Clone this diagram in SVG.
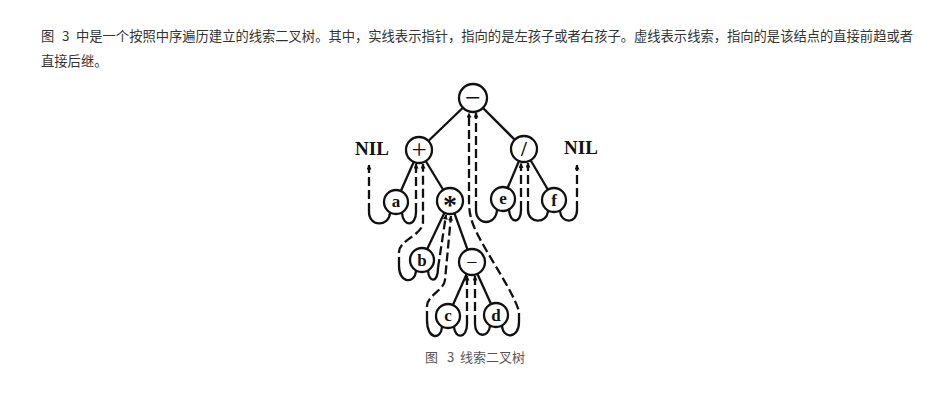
<svg xmlns="http://www.w3.org/2000/svg" width="952" height="406" viewBox="0 0 952 406">
<defs>
<marker id="ah" viewBox="0 0 10 10" refX="9" refY="5" markerUnits="userSpaceOnUse" markerWidth="9" markerHeight="5" orient="auto">
<path d="M0,0 L10,5 L0,10 z" fill="#111" stroke="none"/>
</marker>
</defs>
<style>
.n circle{fill:#fff;stroke:#111;stroke-width:2.3}
.n text{font-family:"Liberation Serif",serif;font-weight:bold;font-size:17px;fill:#111;text-anchor:middle}
.e{stroke:#111;stroke-width:2.3;fill:none}
.h{stroke:#111;stroke-width:2.3;fill:none}
.t{stroke:#111;stroke-width:2.3;fill:none;stroke-dasharray:9 4;marker-end:url(#ah)}
.p{font-family:"Noto Sans CJK SC",sans-serif;font-size:13.3px;fill:#333}
.cap{font-family:"Noto Sans CJK SC",sans-serif;font-size:13px;fill:#555}
.nil{font-family:"Liberation Serif",serif;font-weight:bold;font-size:19px;fill:#111;text-anchor:middle}
</style>
<rect width="952" height="406" fill="#fff"/>
<g id="paragraph">
<text class="p" y="41"><tspan x="41">图</tspan><tspan x="62">3</tspan><tspan x="76" textLength="837" lengthAdjust="spacing">中是一个按照中序遍历建立的线索二叉树。其中，实线表示指针，指向的是左孩子或者右孩子。虚线表示线索，指向的是该结点的直接前趋或者</tspan></text>
<text class="p" x="41" y="66">直接后继。</text>
</g>
<g id="connectors">
<line class="e" x1="473" y1="98" x2="419" y2="150"/>
<line class="e" x1="473" y1="98" x2="524" y2="149"/>
<line class="e" x1="419" y1="150" x2="396" y2="202"/>
<line class="e" x1="419" y1="150" x2="450" y2="201"/>
<line class="e" x1="524" y1="149" x2="503" y2="199"/>
<line class="e" x1="524" y1="149" x2="554" y2="200"/>
<line class="e" x1="450" y1="201" x2="422" y2="260"/>
<line class="e" x1="450" y1="201" x2="472" y2="262"/>
<line class="e" x1="472" y1="262" x2="448" y2="316"/>
<line class="e" x1="472" y1="262" x2="496" y2="315"/>
<path class="h" d="M390,213 C389,227 369,227 369,212"/>
<path class="t" d="M369,212 V165"/>
<path class="h" d="M402,213 C403,227 416,227 416,212"/>
<path class="t" d="M416,212 V164"/>
<path class="h" d="M416,271 C415,284 399,284 399,266"/>
<path class="t" d="M399,266 V252 C399,240 423,235 423,222 V164"/>
<path class="h" d="M428,271 C429,283 438,283 438,268"/>
<path class="t" d="M438,268 L446,215"/>
<path class="h" d="M442,327 C441,340 427,340 427,320"/>
<path class="t" d="M427,320 V306 C427,296 444,290 445,280 L451,216"/>
<path class="h" d="M454,327 C455,339 467,339 467,324"/>
<path class="t" d="M467,324 V276"/>
<path class="h" d="M490,326 C489,338 475,338 475,324"/>
<path class="t" d="M475,324 V276"/>
<path class="h" d="M502,326 C503,339 519,339 519,322"/>
<path class="t" d="M519,322 V312 C514,290 476,240 471,218 C470,214 469,210 469,200 V113"/>
<path class="h" d="M497,210 C496,226 476,226 476,210"/>
<path class="t" d="M476,210 V113"/>
<path class="h" d="M509,210 C510,224 521,224 521,210"/>
<path class="t" d="M521,210 V163.5"/>
<path class="h" d="M548,211 C547,224 528,224 528,210"/>
<path class="t" d="M528,210 V163"/>
<path class="h" d="M560,211 C561,224 577,224 577,210"/>
<path class="t" d="M577,210 V165"/>
</g>
<g id="nil-left"><text class="nil" x="372" y="155">NIL</text></g>
<g id="nil-right"><text class="nil" x="581" y="154">NIL</text></g>
<g id="root" class="n"><circle cx="473" cy="98" r="14"/><text x="473" y="107" style="font-size:28px;font-weight:normal">−</text></g>
<g id="plus" class="n"><circle cx="419" cy="150" r="13"/><text x="419" y="159" style="font-size:27px;font-weight:normal">+</text></g>
<g id="div" class="n"><circle cx="524" cy="149" r="13"/><text x="524" y="156" style="font-size:21px">/</text></g>
<g id="a" class="n"><circle cx="396" cy="202" r="12"/><text x="396" y="207">a</text></g>
<g id="star" class="n"><circle cx="450" cy="201" r="13"/><text x="450" y="214" style="font-size:28px">*</text></g>
<g id="e" class="n"><circle cx="503" cy="199" r="12"/><text x="503" y="204">e</text></g>
<g id="f" class="n"><circle cx="554" cy="200" r="12"/><text x="554" y="206">f</text></g>
<g id="b" class="n"><circle cx="422" cy="260" r="12"/><text x="422" y="266">b</text></g>
<g id="minus" class="n"><circle cx="472" cy="262" r="13"/><text x="472" y="269" style="font-size:20px;font-weight:normal">−</text></g>
<g id="c" class="n"><circle cx="448" cy="316" r="12"/><text x="448" y="321">c</text></g>
<g id="d" class="n"><circle cx="496" cy="315" r="12"/><text x="496" y="321">d</text></g>
<g id="caption"><text class="cap" y="362"><tspan x="425">图</tspan><tspan x="447">3</tspan><tspan x="460">线索二叉树</tspan></text></g>
</svg>
